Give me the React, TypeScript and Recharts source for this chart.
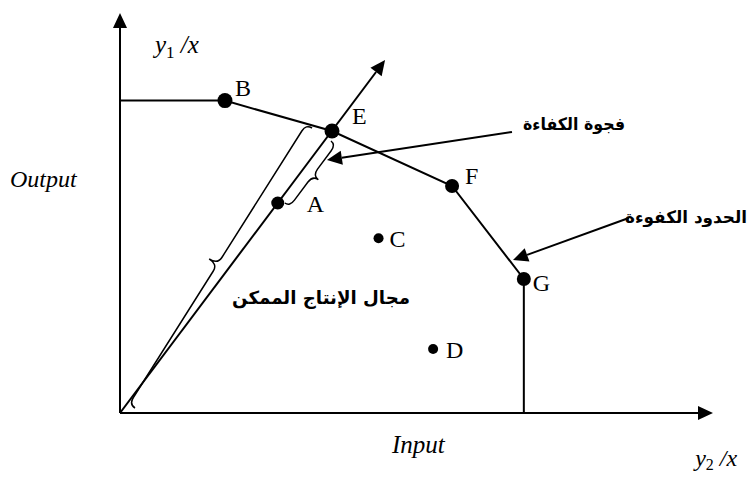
import React from 'react';
import {
    ScatterChart,
    Scatter,
    XAxis,
    YAxis,
    ReferenceLine,
    ReferenceDot,
} from 'recharts';

// units (x = y2/x, y = y1/x)
const unitNames = ['B', 'E', 'F', 'G', 'A', 'C', 'D'];
const unitX = [1.77, 3.575, 5.6, 6.81, 2.66, 4.36, 5.28];
const unitY = [7.81, 7.05, 5.675, 3.35, 5.25, 4.37, 1.6];

// efficient frontier, from the y axis round to the x axis
const frontierX = [0, 1.77, 3.575, 5.6, 6.81, 6.81];
const frontierY = [7.81, 7.81, 7.05, 5.675, 3.35, 0];

// ray from the origin through A and E
const rayEnd = { x: 4.47, y: 8.825 };

// braces: origin..E and A..E
const braceFrom = [{ x: 0.253, y: 0.125 }, { x: 2.78, y: 5.25 }];
const braceTo = [{ x: 3.238, y: 7.125 }, { x: 3.558, y: 6.8 }];

// pointer arrows from the arabic notes
const pointerFrom = [{ x: 6.61, y: 7.025 }, { x: 8.58, y: 4.875 }];
const pointerTo = [{ x: 3.49, y: 6.325 }, { x: 6.627, y: 3.825 }];

const arabicNotes = ['فجوة الكفاءة', 'الحدود الكفوءة', 'مجال الإنتاج الممكن'];

const units = unitNames.map((name, i) => ({ name, x: unitX[i], y: unitY[i] }));
const frontier = frontierX.map((x, i) => ({ x, y: frontierY[i] }));

const SERIF = "'Liberation Serif', 'Times New Roman', serif";
const ARABIC = "'DejaVu Sans', sans-serif";

const dotR: Record<string, number> = { B: 7.5, E: 7.5, F: 7, G: 7, A: 6.5, C: 5, D: 5 };
const labelOffset: Record<string, [number, number]> = {
    B: [10, -5],
    E: [20, -7],
    F: [13, -2],
    G: [9, 12],
    A: [29, 9],
    C: [11, 9],
    D: [13, 9],
};

// rendered widths and sizes of the notes in the figure
const noteWidth = [102, 122, 178];
const noteSize = [17, 17, 18];

const Arrow = (props: any) => {
    const { x1, y1, x2, y2 } = props;
    const a = Math.atan2(y2 - y1, x2 - x1);
    const len = 15;
    const hw = 7;
    const bx = x2 - len * Math.cos(a);
    const by = y2 - len * Math.sin(a);
    const pts = [
        [x2, y2],
        [bx - hw * Math.sin(a), by + hw * Math.cos(a)],
        [bx + hw * Math.sin(a), by - hw * Math.cos(a)],
    ]
        .map((p) => p.join(','))
        .join(' ');
    return (
        <g>
            <line x1={x1} y1={y1} x2={bx} y2={by} stroke="#000" strokeWidth={2} />
            <polygon points={pts} fill="#000" />
        </g>
    );
};

// curly brace between the two segment ends, bulging to one side
const braceShape = (body: number, tip: number, side: 1 | -1) => (props: any) => {
    const { x1, y1, x2, y2 } = props;
    const L = Math.hypot(x2 - x1, y2 - y1);
    const ux = (x2 - x1) / L;
    const uy = (y2 - y1) / L;
    const nx = side * uy;
    const ny = -side * ux;
    const p = (s: number, t: number) => `${x1 + ux * s + nx * t},${y1 + uy * s + ny * t}`;
    const r = 8;
    const m = L / 2;
    const d = [
        `M${p(0, 0)}`,
        `Q${p(0, body)} ${p(r, body)}`,
        `L${p(m - r, body)}`,
        `Q${p(m, body)} ${p(m, tip)}`,
        `Q${p(m, body)} ${p(m + r, body)}`,
        `L${p(L - r, body)}`,
        `Q${p(L, body)} ${p(L, 0)}`,
    ].join(' ');
    return <path d={d} fill="none" stroke="#000" strokeWidth={1.5} />;
};

const UnitDot = (props: any) => {
    const { cx, cy, payload } = props;
    const [dx, dy] = labelOffset[payload.name];
    return (
        <g>
            <circle cx={cx} cy={cy} r={dotR[payload.name]} fill="#000" />
            <text x={cx + dx} y={cy + dy} fontFamily={SERIF} fontSize={24} fill="#000">
                {payload.name}
            </text>
        </g>
    );
};

const note = (render: (cx: number, cy: number) => React.ReactElement) => (props: any) =>
    render(props.cx, props.cy);

export default function App() {
    return (
        <div style={{ position: 'fixed', left: 0, top: 0, background: '#fff' }}>
            <ScatterChart
                width={753}
                height={477}
                margin={{ top: 13, right: 40, bottom: 64, left: 120 }}
            >
                <XAxis type="number" dataKey="x" domain={[0, 10]} hide allowDataOverflow />
                <YAxis type="number" dataKey="y" domain={[0, 10]} hide allowDataOverflow />

                {/* axes */}
                <ReferenceLine segment={[{ x: 0, y: 0 }, { x: 10, y: 0 }]} shape={Arrow} ifOverflow="visible" />
                <ReferenceLine segment={[{ x: 0, y: 0 }, { x: 0, y: 10 }]} shape={Arrow} ifOverflow="visible" />

                {/* ray through A and E */}
                <ReferenceLine segment={[{ x: 0, y: 0 }, rayEnd]} shape={Arrow} ifOverflow="visible" />

                {/* braces */}
                <ReferenceLine segment={[braceFrom[0], braceTo[0]]} shape={braceShape(7, 17, 1)} ifOverflow="visible" />
                <ReferenceLine segment={[braceFrom[1], braceTo[1]]} shape={braceShape(6, 13, -1)} ifOverflow="visible" />

                {/* pointers */}
                <ReferenceLine segment={[pointerFrom[0], pointerTo[0]]} shape={Arrow} ifOverflow="visible" />
                <ReferenceLine segment={[pointerFrom[1], pointerTo[1]]} shape={Arrow} ifOverflow="visible" />

                <Scatter
                    data={frontier}
                    line={{ stroke: '#000', strokeWidth: 2 }}
                    shape={() => <g />}
                    isAnimationActive={false}
                />
                <Scatter data={units} shape={UnitDot} isAnimationActive={false} />

                {/* axis titles */}
                <ReferenceDot
                    x={0.59}
                    y={9.0}
                    r={0}
                    ifOverflow="visible"
                    shape={note((cx, cy) => (
                        <text x={cx} y={cy} fontFamily={SERIF} fontSize={25} fill="#000">
                            <tspan fontStyle="italic">y</tspan>
                            <tspan fontSize={17} dy={5}>1</tspan>
                            <tspan fontStyle="italic" dy={-5}> /x</tspan>
                        </text>
                    ))}
                />
                <ReferenceDot
                    x={-1.855}
                    y={5.65}
                    r={0}
                    ifOverflow="visible"
                    shape={note((cx, cy) => (
                        <text x={cx} y={cy} fontFamily={SERIF} fontSize={24} fontStyle="italic" fill="#000">
                            Output
                        </text>
                    ))}
                />
                <ReferenceDot
                    x={4.587}
                    y={-1.0}
                    r={0}
                    ifOverflow="visible"
                    shape={note((cx, cy) => (
                        <text x={cx} y={cy} fontFamily={SERIF} fontSize={25} fontStyle="italic" fill="#000">
                            Input
                        </text>
                    ))}
                />
                <ReferenceDot
                    x={9.7}
                    y={-1.33}
                    r={0}
                    ifOverflow="visible"
                    shape={note((cx, cy) => (
                        <text x={cx} y={cy} fontFamily={SERIF} fontSize={24} fill="#000">
                            <tspan fontStyle="italic">y</tspan>
                            <tspan fontSize={16} dy={4}>2</tspan>
                            <tspan fontStyle="italic" dy={-4}> /x</tspan>
                        </text>
                    ))}
                />

                {/* arabic notes */}
                {[
                    { x: 7.656, y: 7.075 },
                    { x: 9.545, y: 4.75 },
                    { x: 3.39, y: 2.725 },
                ].map((pos, i) => (
                    <ReferenceDot
                        key={arabicNotes[i]}
                        x={pos.x}
                        y={pos.y}
                        r={0}
                        ifOverflow="visible"
                        shape={note((cx, cy) => (
                            <text
                                x={cx}
                                y={cy}
                                fontFamily={ARABIC}
                                fontWeight="bold"
                                fontSize={noteSize[i]}
                                textAnchor="middle"
                                direction="rtl"
                                textLength={noteWidth[i]}
                                lengthAdjust="spacingAndGlyphs"
                                fill="#000"
                            >
                                {arabicNotes[i]}
                            </text>
                        ))}
                    />
                ))}
            </ScatterChart>
        </div>
    );
}
